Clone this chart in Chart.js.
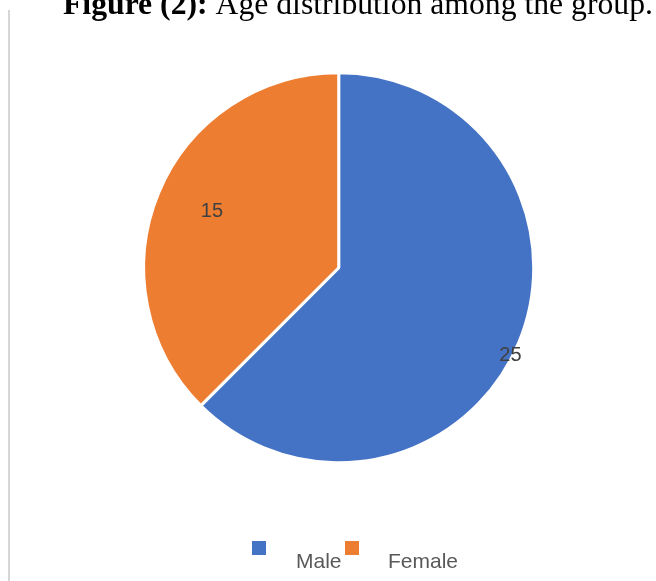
<!DOCTYPE html>
<html>
<head>
<meta charset="utf-8">
<script src="https://cdn.jsdelivr.net/npm/chart.js@4/dist/chart.umd.min.js"></script>
<style>
  html, body { margin: 0; padding: 0; background: #ffffff; }
  #wrap { position: relative; width: 656px; height: 581px; overflow: hidden; }
  canvas { position: absolute; left: 0; top: 0; }
</style>
</head>
<body>
<div id="wrap"><canvas id="c" width="656" height="581"></canvas></div>
<script>
const categories = ["Male", "Female"];
const counts = [25, 15];
const sliceColors = ["#4472C4", "#ED7D31"];
const titleBold = "Figure (2):";
const titleRest = " Age distribution among the group.";

const labelRadiusFactor = [0.986, 0.713];
const labelAngleShiftDeg = [4.2, 1.8];

const decorPlugin = {
  id: 'decor',
  beforeDraw(chart) {
    const ctx = chart.ctx;
    ctx.save();
    ctx.fillStyle = '#ffffff';
    ctx.fillRect(0, 0, chart.width, chart.height);
    ctx.fillStyle = '#d6d6d6';
    ctx.fillRect(8, 10, 2, chart.height - 10);
    ctx.restore();
  },
  afterDraw(chart) {
    const ctx = chart.ctx;
    ctx.save();
    ctx.textBaseline = 'alphabetic';
    ctx.fillStyle = '#000000';
    ctx.font = 'bold 31.7px "Liberation Serif", "Times New Roman", serif';
    const x0 = 63;
    ctx.fillText(titleBold, x0, 13.5);
    const w = ctx.measureText(titleBold).width;
    ctx.font = '31.7px "Liberation Serif", "Times New Roman", serif';
    ctx.fillText(titleRest, x0 + w, 13.5);

    const meta = chart.getDatasetMeta(0);
    ctx.font = '20px "Liberation Sans", Arial, sans-serif';
    ctx.fillStyle = '#404040';
    ctx.textAlign = 'center';
    ctx.textBaseline = 'middle';
    meta.data.forEach((arc, i) => {
      const p = arc.getProps(['x', 'y', 'startAngle', 'endAngle', 'outerRadius'], true);
      const mid = (p.startAngle + p.endAngle) / 2 + labelAngleShiftDeg[i] * Math.PI / 180;
      const r = p.outerRadius * labelRadiusFactor[i];
      ctx.fillText(String(counts[i]), p.x + Math.cos(mid) * r, p.y + Math.sin(mid) * r + 1);
    });

    const items = [
      { sx: 252, sy: 541, tx: 296 },
      { sx: 345, sy: 541, tx: 388 }
    ];
    ctx.textAlign = 'left';
    ctx.textBaseline = 'alphabetic';
    ctx.font = '21px "Liberation Sans", Arial, sans-serif';
    categories.forEach((name, i) => {
      ctx.fillStyle = sliceColors[i];
      ctx.fillRect(items[i].sx, items[i].sy, 14, 14);
      ctx.fillStyle = '#595959';
      ctx.fillText(name, items[i].tx, 568);
    });
    ctx.restore();
  }
};

new Chart(document.getElementById('c'), {
  type: 'pie',
  data: {
    labels: categories,
    datasets: [{
      data: counts,
      backgroundColor: sliceColors,
      borderColor: '#ffffff',
      borderWidth: 3
    }]
  },
  options: {
    responsive: false,
    animation: false,
    radius: 195,
    layout: { padding: { left: 40, right: 18.6, top: 40, bottom: 85.6 } },
    plugins: {
      legend: { display: false },
      title: { display: false },
      tooltip: { enabled: false }
    }
  },
  plugins: [decorPlugin]
});
</script>
</body>
</html>
